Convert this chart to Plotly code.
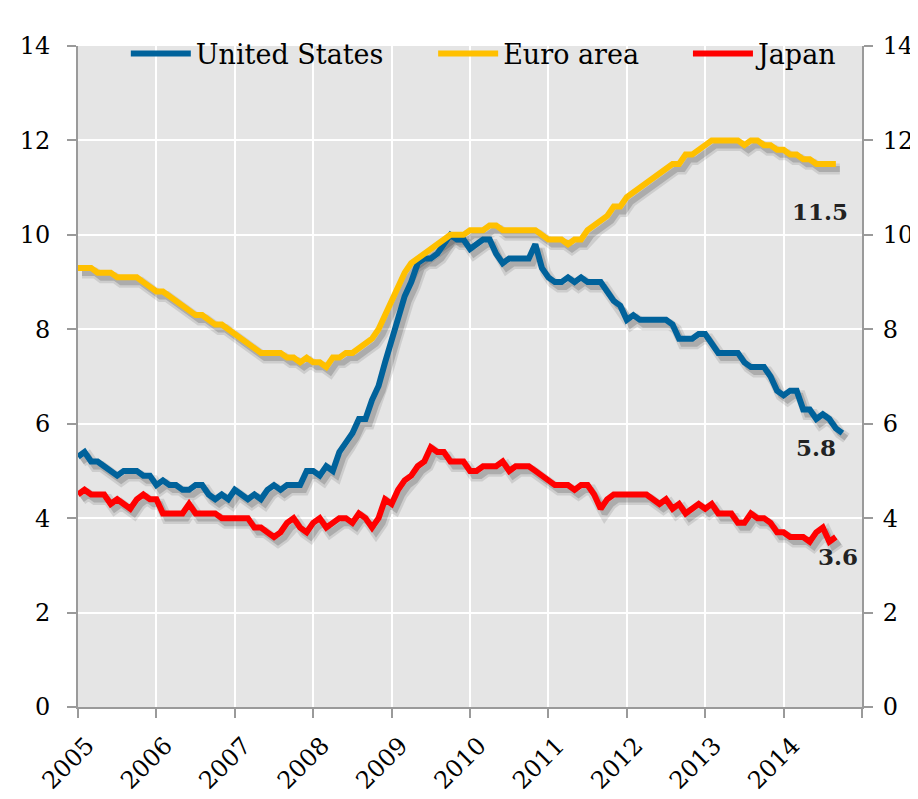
import plotly.graph_objects as go

START_YEAR = 2005
tick_years = list(range(2005, 2016))
tick_labels = [str(y) for y in range(2005, 2015)] + [""]
y_ticks = [0, 2, 4, 6, 8, 10, 12, 14]

us = [5.3, 5.4, 5.2, 5.2, 5.1, 5.0, 4.9, 5.0, 5.0, 5.0, 4.9, 4.9,
      4.7, 4.8, 4.7, 4.7, 4.6, 4.6, 4.7, 4.7, 4.5, 4.4, 4.5, 4.4,
      4.6, 4.5, 4.4, 4.5, 4.4, 4.6, 4.7, 4.6, 4.7, 4.7, 4.7, 5.0,
      5.0, 4.9, 5.1, 5.0, 5.4, 5.6, 5.8, 6.1, 6.1, 6.5, 6.8, 7.3,
      7.8, 8.3, 8.7, 9.0, 9.4, 9.5, 9.5, 9.6, 9.8, 10.0, 9.9, 9.9,
      9.7, 9.8, 9.9, 9.9, 9.6, 9.4, 9.5, 9.5, 9.5, 9.5, 9.8, 9.3,
      9.1, 9.0, 9.0, 9.1, 9.0, 9.1, 9.0, 9.0, 9.0, 8.8, 8.6, 8.5,
      8.2, 8.3, 8.2, 8.2, 8.2, 8.2, 8.2, 8.1, 7.8, 7.8, 7.8, 7.9,
      7.9, 7.7, 7.5, 7.5, 7.5, 7.5, 7.3, 7.2, 7.2, 7.2, 7.0, 6.7,
      6.6, 6.7, 6.7, 6.3, 6.3, 6.1, 6.2, 6.1, 5.9, 5.8]

euro = [9.3, 9.3, 9.3, 9.2, 9.2, 9.2, 9.1, 9.1, 9.1, 9.1, 9.0, 8.9,
        8.8, 8.8, 8.7, 8.6, 8.5, 8.4, 8.3, 8.3, 8.2, 8.1, 8.1, 8.0,
        7.9, 7.8, 7.7, 7.6, 7.5, 7.5, 7.5, 7.5, 7.4, 7.4, 7.3, 7.4,
        7.3, 7.3, 7.2, 7.4, 7.4, 7.5, 7.5, 7.6, 7.7, 7.8, 8.0, 8.3,
        8.6, 8.9, 9.2, 9.4, 9.5, 9.6, 9.7, 9.8, 9.9, 10.0, 10.0, 10.0,
        10.1, 10.1, 10.1, 10.2, 10.2, 10.1, 10.1, 10.1, 10.1, 10.1, 10.1, 10.0,
        9.9, 9.9, 9.9, 9.8, 9.9, 9.9, 10.1, 10.2, 10.3, 10.4, 10.6, 10.6,
        10.8, 10.9, 11.0, 11.1, 11.2, 11.3, 11.4, 11.5, 11.5, 11.7, 11.7, 11.8,
        11.9, 12.0, 12.0, 12.0, 12.0, 12.0, 11.9, 12.0, 12.0, 11.9, 11.9, 11.8,
        11.8, 11.7, 11.7, 11.6, 11.6, 11.5, 11.5, 11.5, 11.5]

japan = [4.5, 4.6, 4.5, 4.5, 4.5, 4.3, 4.4, 4.3, 4.2, 4.4, 4.5, 4.4,
         4.4, 4.1, 4.1, 4.1, 4.1, 4.3, 4.1, 4.1, 4.1, 4.1, 4.0, 4.0,
         4.0, 4.0, 4.0, 3.8, 3.8, 3.7, 3.6, 3.7, 3.9, 4.0, 3.8, 3.7,
         3.9, 4.0, 3.8, 3.9, 4.0, 4.0, 3.9, 4.1, 4.0, 3.8, 4.0, 4.4,
         4.3, 4.6, 4.8, 4.9, 5.1, 5.2, 5.5, 5.4, 5.4, 5.2, 5.2, 5.2,
         5.0, 5.0, 5.1, 5.1, 5.1, 5.2, 5.0, 5.1, 5.1, 5.1, 5.0, 4.9,
         4.8, 4.7, 4.7, 4.7, 4.6, 4.7, 4.7, 4.5, 4.2, 4.4, 4.5, 4.5,
         4.5, 4.5, 4.5, 4.5, 4.4, 4.3, 4.4, 4.2, 4.3, 4.1, 4.2, 4.3,
         4.2, 4.3, 4.1, 4.1, 4.1, 3.9, 3.9, 4.1, 4.0, 4.0, 3.9, 3.7,
         3.7, 3.6, 3.6, 3.6, 3.5, 3.7, 3.8, 3.5, 3.6]

series_names = ["United States", "Euro area", "Japan"]
series_values = [us, euro, japan]
series_colors = ["#00629B", "#FFC000", "#FF0000"]
legend_ids = ["legend", "legend2", "legend3"]
legend_x = [0.061, 0.453, 0.778]
# label offsets (px) for end-value labels
label_shift = [(-26, -14), (-16, -47), (2, -19)]


def month_x(vals):
    return [START_YEAR + i / 12 for i in range(len(vals))]


# page is rendered with an 8px body margin
W, H = 910, 791
ML, MR, MT, MB = 70, 56, 38, 92
plot_w = W - ML - MR
plot_h = H - MT - MB
XR = [2005, 2015]
YR = [0, 14]
SH_DX, SH_DY = 4, 5
dx = SH_DX * (XR[1] - XR[0]) / plot_w
dy = SH_DY * (YR[1] - YR[0]) / plot_h

FONT = "DejaVu Serif"
fig = go.Figure()

# invisible carriers for the base (left) and right axes
fig.add_trace(go.Scatter(x=month_x(us), y=us, mode="lines", line=dict(width=0),
                         opacity=0, xaxis="x", yaxis="y", showlegend=False, hoverinfo="skip"))
fig.add_trace(go.Scatter(x=month_x(us), y=us, mode="lines", line=dict(width=0),
                         opacity=0, xaxis="x", yaxis="y4", showlegend=False, hoverinfo="skip"))

# soft drop shadows
for vals in series_values:
    fig.add_trace(go.Scatter(x=month_x(vals), y=vals, mode="lines",
                             line=dict(color="rgba(0,0,0,0.10)", width=11),
                             xaxis="x2", yaxis="y2", showlegend=False, hoverinfo="skip"))
    fig.add_trace(go.Scatter(x=month_x(vals), y=vals, mode="lines",
                             line=dict(color="rgba(0,0,0,0.16)", width=6),
                             xaxis="x2", yaxis="y2", showlegend=False, hoverinfo="skip"))
# main lines
for name, vals, col, lg in zip(series_names, series_values, series_colors, legend_ids):
    fig.add_trace(go.Scatter(x=month_x(vals), y=vals, mode="lines", name=name,
                             line=dict(color=col, width=6), legend=lg,
                             xaxis="x3", yaxis="y3"))

for vals, (sx, sy) in zip(series_values, label_shift):
    fig.add_annotation(x=month_x(vals)[-1], y=vals[-1], xref="x3", yref="y3",
                       text="<b>%.1f</b>" % vals[-1], showarrow=False,
                       xshift=sx, yshift=sy,
                       font=dict(family=FONT, size=23, color="#222222"))

axis_common = dict(showline=True, linecolor="#9a9a9a", linewidth=2, ticks="outside",
                   tickcolor="#9a9a9a", tickwidth=2, ticklen=9, zeroline=False,
                   tickfont=dict(family=FONT, size=24, color="black"))
hidden = dict(visible=False, showgrid=False, zeroline=False)

legend_common = dict(orientation="h", y=0.988, xanchor="left", yanchor="middle",
                     bgcolor="rgba(0,0,0,0)", font=dict(family=FONT, size=27, color="black"),
                     itemwidth=60)

fig.update_layout(
    width=W, height=H,
    margin=dict(l=ML, r=MR, t=MT, b=MB, autoexpand=False),
    paper_bgcolor="white", plot_bgcolor="#E5E5E5",
    showlegend=True,
    legend=dict(x=legend_x[0], **legend_common),
    legend2=dict(x=legend_x[1], **legend_common),
    legend3=dict(x=legend_x[2], **legend_common),
    xaxis=dict(range=XR, tickvals=tick_years, ticktext=tick_labels, tickangle=-45,
               ticklabelshift=9, ticklabelstandoff=4,
               showgrid=True, gridcolor="white", gridwidth=2, **axis_common),
    yaxis=dict(range=YR, tickvals=y_ticks, showgrid=True, gridcolor="white", gridwidth=2,
               ticklabelstandoff=12, **axis_common),
    yaxis4=dict(range=YR, tickvals=y_ticks, overlaying="y", side="right", showgrid=False,
                anchor="x", ticklabelstandoff=5, **axis_common),
    xaxis2=dict(range=[XR[0] - dx, XR[1] - dx], overlaying="x", **hidden),
    yaxis2=dict(range=[YR[0] + dy, YR[1] + dy], overlaying="y", **hidden),
    xaxis3=dict(range=XR, overlaying="x", **hidden),
    yaxis3=dict(range=YR, overlaying="y", **hidden),
)

fig.write_html("out.html")
